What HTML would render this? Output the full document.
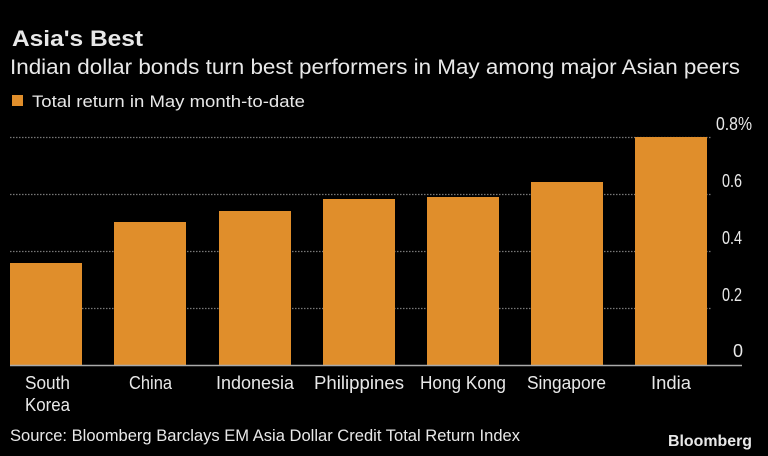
<!DOCTYPE html>
<html><head><meta charset="utf-8"><style>
html,body{margin:0;padding:0;background:#000;}
svg{display:block;}
text{font-family:"Liberation Sans",sans-serif;fill:#e8e8e8;}
</style></head><body>
<svg width="768" height="456" viewBox="0 0 768 456">
<rect width="768" height="456" fill="#000"/>
<text x="12" y="46" font-size="22" font-weight="bold" fill="#fff" textLength="131" lengthAdjust="spacingAndGlyphs">Asia's Best</text>
<text x="10" y="74" font-size="21" textLength="730" lengthAdjust="spacingAndGlyphs">Indian dollar bonds turn best performers in May among major Asian peers</text>
<rect x="12" y="95" width="11" height="11" fill="#e08e2b"/>
<text x="32" y="107" font-size="17" textLength="273" lengthAdjust="spacingAndGlyphs">Total return in May month-to-date</text>
<g stroke="#777" stroke-width="1.2" stroke-dasharray="1.5,1.5">
<line x1="10" y1="137.5" x2="712" y2="137.5"/>
<line x1="10" y1="194.5" x2="712" y2="194.5"/>
<line x1="10" y1="251.5" x2="712" y2="251.5"/>
<line x1="10" y1="308.5" x2="712" y2="308.5"/>
</g>
<g fill="#e08e2b">
<rect x="10" y="263" width="72" height="102"/>
<rect x="114" y="222" width="72" height="143"/>
<rect x="219" y="211" width="72" height="154"/>
<rect x="323" y="199" width="72" height="166"/>
<rect x="427" y="197" width="72" height="168"/>
<rect x="531" y="182" width="72" height="183"/>
<rect x="635" y="137" width="72" height="228"/>
</g>
<line x1="10" y1="365.5" x2="742" y2="365.5" stroke="#aaa" stroke-width="1.5"/>
<g font-size="18">
<text x="716" y="130" textLength="36" lengthAdjust="spacingAndGlyphs">0.8%</text>
<text x="722" y="187" textLength="20" lengthAdjust="spacingAndGlyphs">0.6</text>
<text x="722" y="244" textLength="20" lengthAdjust="spacingAndGlyphs">0.4</text>
<text x="722" y="301" textLength="20" lengthAdjust="spacingAndGlyphs">0.2</text>
<text x="733" y="357">0</text>
</g>
<g font-size="18">
<text x="25" y="389" textLength="45" lengthAdjust="spacingAndGlyphs">South</text>
<text x="25" y="411" textLength="45" lengthAdjust="spacingAndGlyphs">Korea</text>
<text x="129" y="389" textLength="43" lengthAdjust="spacingAndGlyphs">China</text>
<text x="216" y="389" textLength="78" lengthAdjust="spacingAndGlyphs">Indonesia</text>
<text x="314" y="389" textLength="90" lengthAdjust="spacingAndGlyphs">Philippines</text>
<text x="420" y="389" textLength="86" lengthAdjust="spacingAndGlyphs">Hong Kong</text>
<text x="527" y="389" textLength="79" lengthAdjust="spacingAndGlyphs">Singapore</text>
<text x="651" y="389" textLength="40" lengthAdjust="spacingAndGlyphs">India</text>
</g>
<text x="10" y="441" font-size="17" textLength="510" lengthAdjust="spacingAndGlyphs">Source: Bloomberg Barclays EM Asia Dollar Credit Total Return Index</text>
<text x="668" y="446" font-size="16" font-weight="bold" fill="#fff" textLength="84" lengthAdjust="spacingAndGlyphs">Bloomberg</text>
</svg>
</body></html>
